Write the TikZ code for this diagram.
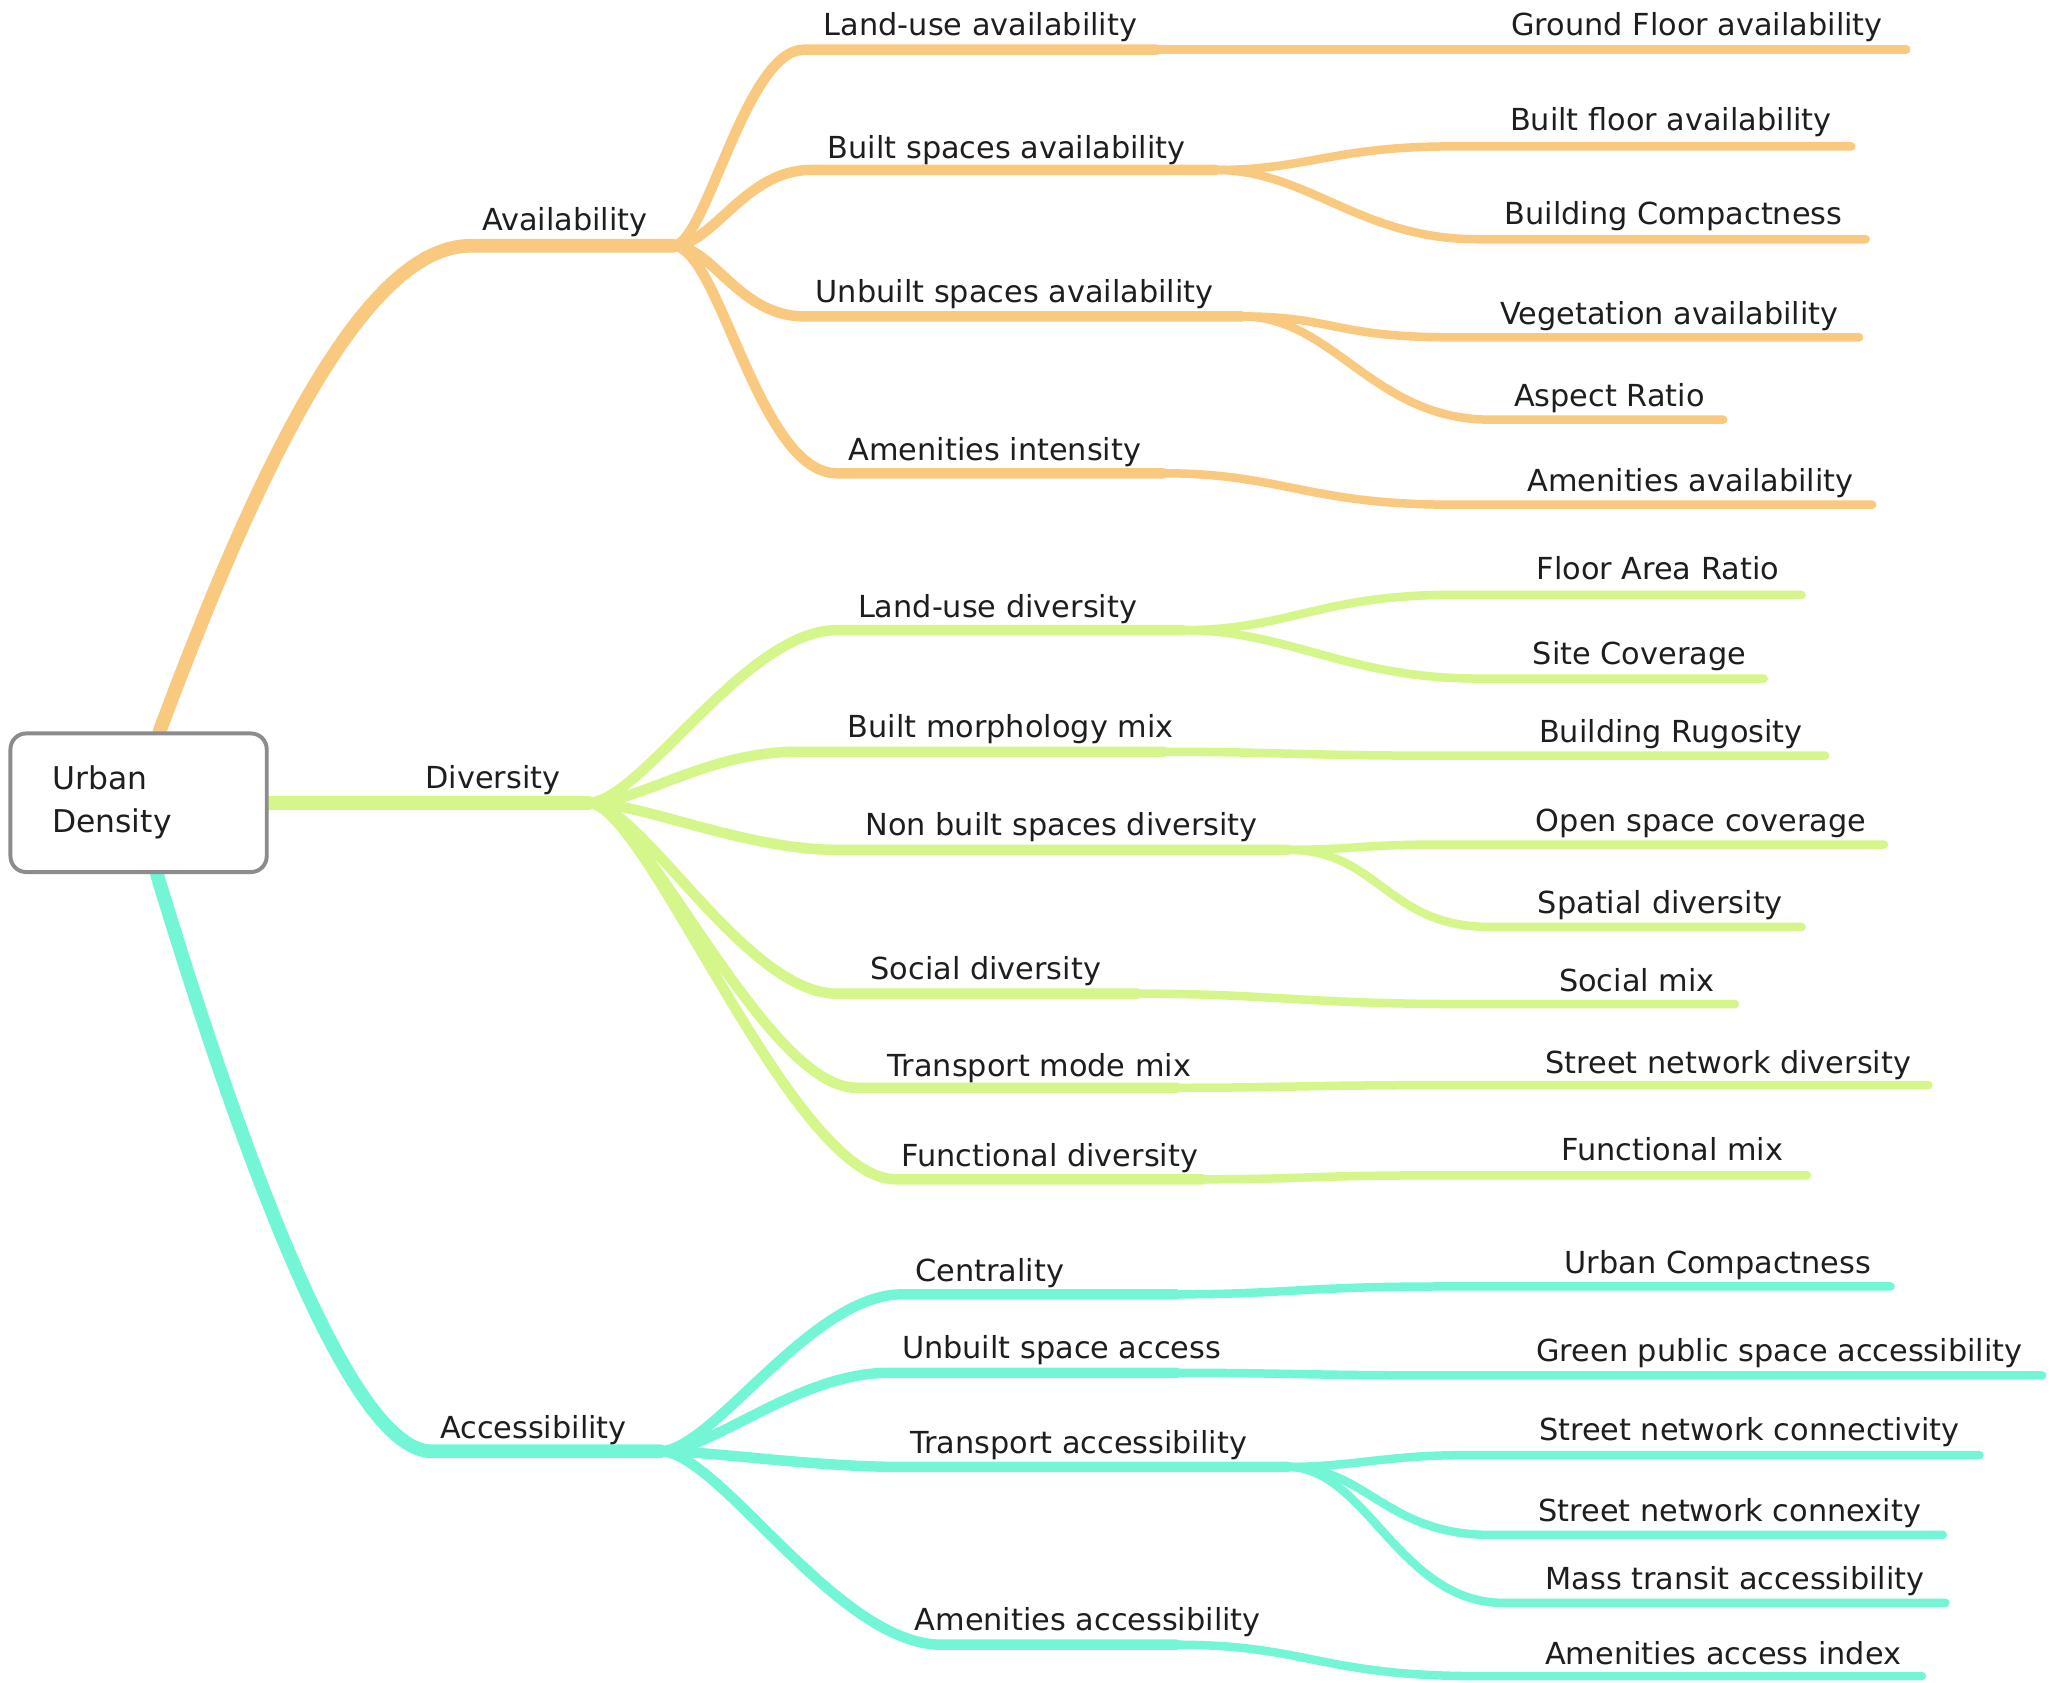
\documentclass[tikz,border=0pt]{standalone}
\usepackage{fontspec}
\setmainfont{DejaVu Sans}
\usetikzlibrary{backgrounds}
\definecolor{cA}{RGB}{250,201,128}
\definecolor{cD}{RGB}{212,246,138}
\definecolor{cC}{RGB}{114,246,214}
\definecolor{txt}{RGB}{30,30,30}
\definecolor{boxc}{RGB}{140,140,140}
\begin{document}
\begin{tikzpicture}[x=1pt,y=-1pt,
  lbl/.style={font=\fontsize{23.2}{28}\selectfont, text=txt, inner sep=0pt, anchor=base},
  rootbox/.style={draw=boxc, fill=white, line width=3pt, rounded corners=12pt,
     minimum width=196pt, minimum height=106pt, text width=132pt, inner xsep=32pt,
     align=left, font=\fontsize{24}{33}\selectfont, text=txt},
  mA/.style={draw=cA, line width=10.5pt, line cap=round},
  sA/.style={draw=cA, line width=8pt, line cap=round},
  lA/.style={draw=cA, line width=6.5pt, line cap=round},
  mD/.style={draw=cD, line width=10.5pt, line cap=round},
  sD/.style={draw=cD, line width=8pt, line cap=round},
  lD/.style={draw=cD, line width=6.5pt, line cap=round},
  mC/.style={draw=cC, line width=10.5pt, line cap=round},
  sC/.style={draw=cC, line width=8pt, line cap=round},
  lC/.style={draw=cC, line width=6.5pt, line cap=round}]
\useasboundingbox (0,0) rectangle (1568,1287);

% root
\node[rootbox] (root) at (106,614) {\raisebox{-3pt}{Urban}\\\raisebox{-3pt}{Density}};

% hubs
\coordinate (A) at (515,188);
\coordinate (D) at (450,614);
\coordinate (C) at (505,1110);

% labels
\node[lbl] (nA) at (432,176) {Availability};
\node[lbl] (nD) at (377,603) {Diversity};
\node[lbl] (nC) at (408,1100) {Accessibility};

\node[lbl] (a1) at (750,27) {Land-use availability};
\node[lbl] (a1x) at (1298,27) {Ground Floor availability};
\node[lbl] (a2) at (770,121) {Built spaces availability};
\node[lbl] (a2x) at (1278,100) {Built floor availability};
\node[lbl] (a2y) at (1280,172) {Building Compactness};
\node[lbl] (a3) at (776,231) {Unbuilt spaces availability};
\node[lbl] (a3x) at (1277,248) {Vegetation availability};
\node[lbl] (a3y) at (1231,311) {Aspect Ratio};
\node[lbl] (a4) at (761,352) {Amenities intensity};
\node[lbl] (a4x) at (1293,376) {Amenities availability};

\node[lbl] (d1) at (763,472) {Land-use diversity};
\node[lbl] (d1x) at (1268,443) {Floor Area Ratio};
\node[lbl] (d1y) at (1254,508) {Site Coverage};
\node[lbl] (d2) at (773,564) {Built morphology mix};
\node[lbl] (d2x) at (1278,568) {Building Rugosity};
\node[lbl] (d3) at (812,639) {Non built spaces diversity};
\node[lbl] (d3x) at (1301,636) {Open space coverage};
\node[lbl] (d3y) at (1270,699) {Spatial diversity};
\node[lbl] (d4) at (754,749) {Social diversity};
\node[lbl] (d4x) at (1252,758) {Social mix};
\node[lbl] (d5) at (795,823) {Transport mode mix};
\node[lbl] (d5x) at (1322,821) {Street network diversity};
\node[lbl] (d6) at (803,892) {Functional diversity};
\node[lbl] (d6x) at (1279,888) {Functional mix};

\node[lbl] (c1) at (757,980) {Centrality};
\node[lbl] (c1x) at (1314,974) {Urban Compactness};
\node[lbl] (c2) at (812,1039) {Unbuilt space access};
\node[lbl] (c2x) at (1361,1041) {Green public space accessibility};
\node[lbl] (c3) at (825,1112) {Transport accessibility};
\node[lbl] (c3x) at (1338,1102) {Street network connectivity};
\node[lbl] (c3y) at (1323,1164) {Street network connexity};
\node[lbl] (c3z) at (1327,1216) {Mass transit accessibility};
\node[lbl] (c4) at (832,1247) {Amenities accessibility};
\node[lbl] (c4x) at (1318,1273) {Amenities access index};

% line coordinates
\coordinate (a1s) at (615,38);   \coordinate (a1e) at (885,38);
\coordinate (a1xe) at (1458,38);
\coordinate (a2s) at (620,130);  \coordinate (a2e) at (930,130);
\coordinate (a2xs) at (1110,112); \coordinate (a2xe) at (1416,112);
\coordinate (a2ys) at (1130,183); \coordinate (a2ye) at (1427,183);
\coordinate (a3s) at (615,242);  \coordinate (a3e) at (950,242);
\coordinate (a3xs) at (1110,258); \coordinate (a3xe) at (1422,258);
\coordinate (a3ys) at (1140,321); \coordinate (a3ye) at (1318,321);
\coordinate (a4s) at (640,362);  \coordinate (a4e) at (890,362);
\coordinate (a4xs) at (1110,386); \coordinate (a4xe) at (1432,386);

\coordinate (d1s) at (640,482);  \coordinate (d1e) at (905,482);
\coordinate (d1xs) at (1110,455); \coordinate (d1xe) at (1378,455);
\coordinate (d1ys) at (1130,519); \coordinate (d1ye) at (1349,519);
\coordinate (d2s) at (610,575);  \coordinate (d2e) at (890,575);
\coordinate (d2xs) at (1100,578); \coordinate (d2xe) at (1396,578);
\coordinate (d3s) at (640,650);  \coordinate (d3e) at (985,650);
\coordinate (d3xs) at (1100,646); \coordinate (d3xe) at (1441,646);
\coordinate (d3ys) at (1140,709); \coordinate (d3ye) at (1378,709);
\coordinate (d4s) at (640,760);  \coordinate (d4e) at (870,760);
\coordinate (d4xs) at (1120,768); \coordinate (d4xe) at (1327,768);
\coordinate (d5s) at (655,832);  \coordinate (d5e) at (900,832);
\coordinate (d5xs) at (1100,830); \coordinate (d5xe) at (1475,830);
\coordinate (d6s) at (685,902);  \coordinate (d6e) at (920,902);
\coordinate (d6xs) at (1100,899); \coordinate (d6xe) at (1382,899);

\coordinate (c1s) at (690,990);  \coordinate (c1e) at (900,990);
\coordinate (c1xs) at (1100,984); \coordinate (c1xe) at (1446,984);
\coordinate (c2s) at (680,1050); \coordinate (c2e) at (900,1050);
\coordinate (c2xs) at (1100,1052); \coordinate (c2xe) at (1562,1052);
\coordinate (c3s) at (690,1122); \coordinate (c3e) at (985,1122);
\coordinate (c3xs) at (1120,1113); \coordinate (c3xe) at (1514,1113);
\coordinate (c3ys) at (1140,1174); \coordinate (c3ye) at (1486,1174);
\coordinate (c3zs) at (1150,1226); \coordinate (c3ze) at (1488,1226);
\coordinate (c4s) at (720,1258); \coordinate (c4e) at (900,1258);
\coordinate (c4xs) at (1130,1282); \coordinate (c4xe) at (1470,1282);

\begin{pgfonlayer}{background}
\fill[white] (0,0) rectangle (1568,1287);
% main branches
\draw[mA] ([xshift=16pt]root.north) .. controls (200,350) and (280,188) .. (360,188) -- (A);
\draw[mD] (root.east) -- (D);
\draw[mC] ([xshift=14pt]root.south) .. controls (190,900) and (270,1110) .. (330,1110) -- (C);

% availability
\draw[sA] (A) .. controls +(25,0) and +(-45,0) .. (a1s) -- (a1e);
\draw[lA] (a1e) -- (a1xe);
\draw[sA] (A) .. controls +(30,0) and +(-50,0) .. (a2s) -- (a2e);
\draw[lA] (a2e) .. controls +(70,0) and +(-90,0) .. (a2xs) -- (a2xe);
\draw[lA] (a2e) .. controls +(70,0) and +(-90,0) .. (a2ys) -- (a2ye);
\draw[sA] (A) .. controls +(30,0) and +(-50,0) .. (a3s) -- (a3e);
\draw[lA] (a3e) .. controls +(70,0) and +(-90,0) .. (a3xs) -- (a3xe);
\draw[lA] (a3e) .. controls +(70,0) and +(-90,0) .. (a3ys) -- (a3ye);
\draw[sA] (A) .. controls +(35,0) and +(-60,0) .. (a4s) -- (a4e);
\draw[lA] (a4e) .. controls +(90,0) and +(-110,0) .. (a4xs) -- (a4xe);

% diversity
\draw[sD] (D) .. controls +(40,0) and +(-70,0) .. (d1s) -- (d1e);
\draw[lD] (d1e) .. controls +(80,0) and +(-100,0) .. (d1xs) -- (d1xe);
\draw[lD] (d1e) .. controls +(80,0) and +(-100,0) .. (d1ys) -- (d1ye);
\draw[sD] (D) .. controls +(40,0) and +(-70,0) .. (d2s) -- (d2e);
\draw[lD] (d2e) .. controls +(80,0) and +(-100,0) .. (d2xs) -- (d2xe);
\draw[sD] (D) .. controls +(40,0) and +(-70,0) .. (d3s) -- (d3e);
\draw[lD] (d3e) .. controls +(50,0) and +(-60,0) .. (d3xs) -- (d3xe);
\draw[lD] (d3e) .. controls +(70,0) and +(-80,0) .. (d3ys) -- (d3ye);
\draw[sD] (D) .. controls +(40,0) and +(-70,0) .. (d4s) -- (d4e);
\draw[lD] (d4e) .. controls +(100,0) and +(-120,0) .. (d4xs) -- (d4xe);
\draw[sD] (D) .. controls +(40,0) and +(-70,0) .. (d5s) -- (d5e);
\draw[lD] (d5e) .. controls +(80,0) and +(-100,0) .. (d5xs) -- (d5xe);
\draw[sD] (D) .. controls +(45,0) and +(-80,0) .. (d6s) -- (d6e);
\draw[lD] (d6e) .. controls +(80,0) and +(-100,0) .. (d6xs) -- (d6xe);

% accessibility
\draw[sC] (C) .. controls +(40,0) and +(-70,0) .. (c1s) -- (c1e);
\draw[lC] (c1e) .. controls +(80,0) and +(-100,0) .. (c1xs) -- (c1xe);
\draw[sC] (C) .. controls +(40,0) and +(-70,0) .. (c2s) -- (c2e);
\draw[lC] (c2e) .. controls +(80,0) and +(-100,0) .. (c2xs) -- (c2xe);
\draw[sC] (C) .. controls +(40,0) and +(-70,0) .. (c3s) -- (c3e);
\draw[lC] (c3e) .. controls +(50,0) and +(-60,0) .. (c3xs) -- (c3xe);
\draw[lC] (c3e) .. controls +(60,0) and +(-80,0) .. (c3ys) -- (c3ye);
\draw[lC] (c3e) .. controls +(60,0) and +(-80,0) .. (c3zs) -- (c3ze);
\draw[sC] (C) .. controls +(45,0) and +(-80,0) .. (c4s) -- (c4e);
\draw[lC] (c4e) .. controls +(100,0) and +(-120,0) .. (c4xs) -- (c4xe);
\end{pgfonlayer}
\end{tikzpicture}
\end{document}
